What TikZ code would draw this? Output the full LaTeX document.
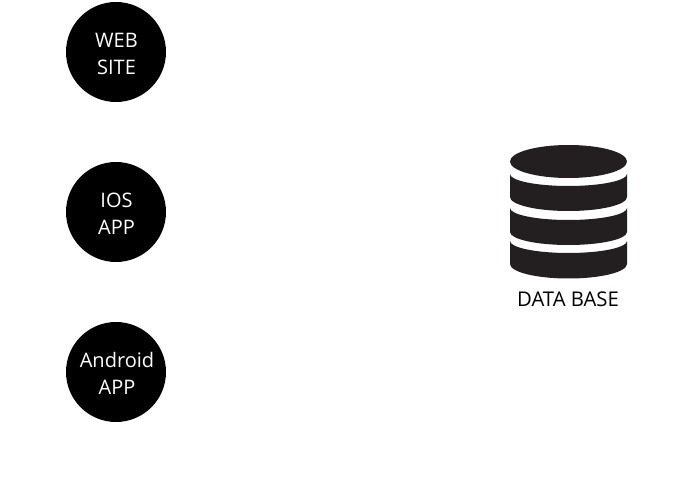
\documentclass[tikz,border=0pt]{standalone}
\usepackage{fontspec}
\setmainfont{Open Sans}
\definecolor{dbfill}{HTML}{231F20}
% #1 top edge at the side, #2 top edge at the middle, #3 bottom edge at the side, #4 bottom edge at the middle
\newcommand{\dbband}[4]{%
  \fill[dbfill] (510,#1) .. controls (510,{#1+0.55*(#2-#1)}) and (536,#2) .. (568.5,#2)
    .. controls (601,#2) and (627,{#1+0.55*(#2-#1)}) .. (627,#1)
    -- (627,#3) .. controls (627,{#3+0.55*(#4-#3)}) and (601,#4) .. (568.5,#4)
    .. controls (536,#4) and (510,{#3+0.55*(#4-#3)}) .. (510,#3) -- cycle;}
\tikzset{
  client/.style={circle,fill=black,minimum size=100pt,inner sep=0pt},
  clienttext/.style={text=white,inner sep=0pt,align=center,
    font=\fontsize{20}{27}\selectfont},
  caption/.style={text=black,inner sep=0pt,font=\fontsize{20.3}{24}\selectfont}
}
\begin{document}
\begin{tikzpicture}[x=1pt,y=-1pt]
\useasboundingbox (0,0) rectangle (691,489);
\node[client] (web) at (116,52) {};
\node[client] (ios) at (116,212) {};
\node[client] (android) at (116,372) {};
\node[clienttext] (webtext) at (116.5,53.5) {WEB\\SITE};
\node[clienttext] (iostext) at (116.5,213.5) {IOS\\APP};
\node[clienttext] (androidtext) at (117,373.5) {Android\\APP};
\fill[dbfill] (568.5,161.5) ellipse [x radius=58.5, y radius=16.5];
\dbband{174}{186}{197}{211}
\dbband{208}{220}{232}{245}
\dbband{241}{253}{264}{278.5}
\node[caption] (dblabel) at (568,299.5) {DATA BASE};
\end{tikzpicture}
\end{document}
